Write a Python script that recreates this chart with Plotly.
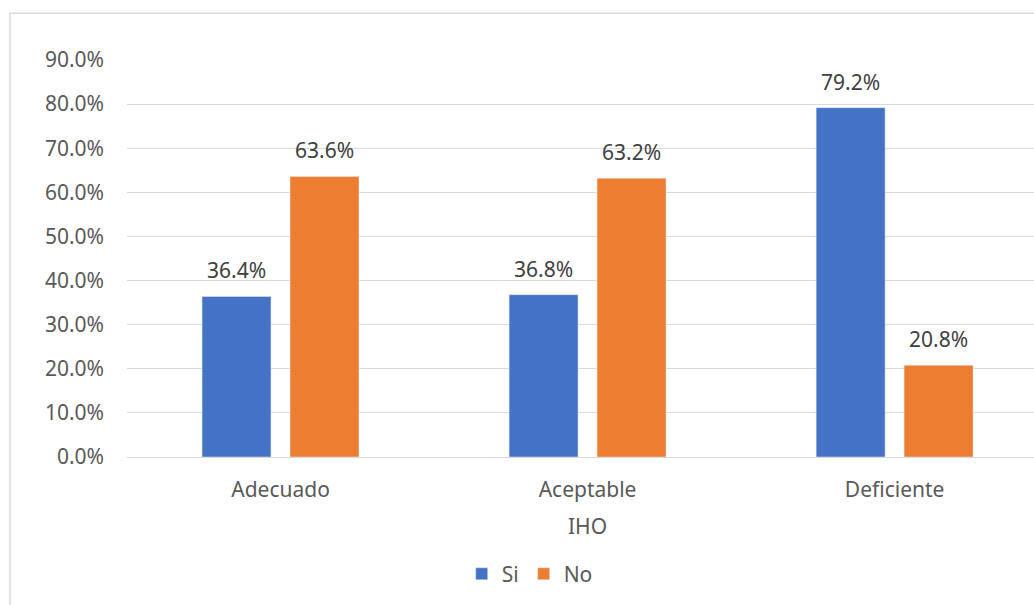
import plotly.graph_objects as go

categories = ["Adecuado", "Aceptable", "Deficiente"]
si_values = [0.364, 0.368, 0.792]
no_values = [0.636, 0.632, 0.208]
series_names = ["Si", "No"]
y_ticks = [0.0, 0.1, 0.2, 0.3, 0.4, 0.5, 0.6, 0.7, 0.8, 0.9]
axis_title = "IHO"

FONT = "Noto Sans"
FS = 21
fig = go.Figure()
annotations = []
for k, (name, vals, color) in enumerate([(series_names[0], si_values, "#4472C4"),
                                         (series_names[1], no_values, "#ED7D31")]):
    fig.add_trace(go.Bar(
        x=categories, y=vals, name=name, marker_color=color,
    ))
    for i, v in enumerate(vals):
        annotations.append(dict(
            text=f"{v*100:.1f}%", xref="x", yref="y", x=categories[i], y=v,
            xshift=-44 if k == 0 else 44, yshift=26, showarrow=False,
            xanchor="center", yanchor="middle",
            font=dict(size=FS, color="#404040", family=FONT)))

annotations.append(dict(text=axis_title, xref="x", yref="paper", x=categories[1], y=-0.174,
                        showarrow=False, xanchor="center", yanchor="middle",
                        font=dict(size=FS, color="#595959", family=FONT)))

fig.update_layout(
    width=1034, height=605,
    margin=dict(l=127, r=0, t=60, b=148),
    paper_bgcolor="white", plot_bgcolor="white",
    barmode="group", bargap=0.427, bargroupgap=0.216,
    font=dict(family=FONT, size=FS, color="#595959"),
    showlegend=True,
    legend=dict(orientation="h", x=0.444, y=-0.295, xanchor="center", yanchor="middle",
                font=dict(size=FS, color="#595959"), traceorder="normal"),
    xaxis=dict(range=[-0.5, 2.454], showgrid=False, showline=False, ticks="",
               ticklabelstandoff=18,
               tickfont=dict(size=FS, color="#595959")),
    yaxis=dict(range=[0, 0.9], tickvals=y_ticks, tickformat=".1%",
               showgrid=True, gridcolor="#D9D9D9", gridwidth=1.3,
               zeroline=True, zerolinecolor="#D9D9D9", zerolinewidth=1.3,
               showline=False, ticks="", ticklabelstandoff=22,
               tickfont=dict(size=FS, color="#595959")),
    annotations=annotations,
    shapes=[dict(type="rect", xref="paper", yref="paper",
                 x0=-0.129, x1=1.2, y0=-0.6, y1=1.118,
                 line=dict(color="#D9D9D9", width=1.5), layer="below")],
)

fig.write_html("out.html")
